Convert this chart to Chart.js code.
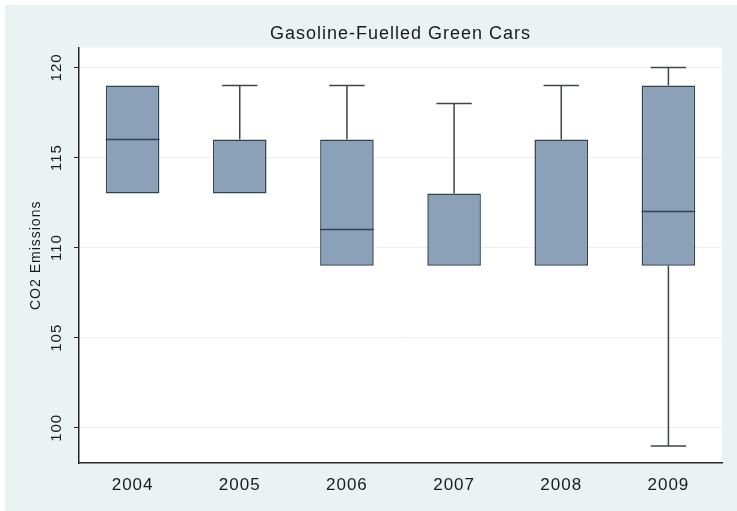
<!DOCTYPE html>
<html>
<head>
<meta charset="utf-8">
<title>Gasoline-Fuelled Green Cars</title>
<script src="https://cdn.jsdelivr.net/npm/chart.js@4.4.1/dist/chart.umd.min.js"></script>
<style>
    html, body { margin: 0; padding: 0; background: #ffffff; }
    .chart-container { position: relative; width: 737px; height: 511px; }
</style>
</head>
<body>
<div class="chart-container"><canvas id="chart"></canvas></div>
<script>
// --- Data: CO2 emissions summary per model year ---
const YEARS = ['2004', '2005', '2006', '2007', '2008', '2009'];
const WHISKER_LOW = [113, 113, 109, 109, 109, 99];
const Q1 = [113, 113, 109, 109, 109, 109];
const MEDIAN = [116, 116, 111, 109, 109, 112];
const Q3 = [119, 116, 116, 113, 116, 119];
const WHISKER_HIGH = [119, 119, 119, 118, 119, 120];
const Y_TICKS = [100, 105, 110, 115, 120];

// --- Styling ---
const COLORS = {
    BACKGROUND: '#eaf2f3',
    BOX_FILL: '#8ba1b8',
    BOX_LINE: '#2f4254',
    WHISKER: '#3f454b',
    GRID: '#eaf0f1',
    AXIS: '#262626',
    TEXT: '#1a1a1a'
};
const FONT = '"Liberation Sans", Arial, sans-serif';

// Background panels, whiskers + medians, and the upright y tick labels
const boxWhiskers = {
    id: 'boxWhiskers',
    beforeDraw(chart) {
        const { ctx, width, height, chartArea: a } = chart;
        ctx.save();
        ctx.fillStyle = '#ffffff';
        ctx.fillRect(0, 0, width, height);
        ctx.fillStyle = COLORS.BACKGROUND;
        ctx.fillRect(5, 5, width - 5, height - 5);
        ctx.fillStyle = '#ffffff';
        ctx.fillRect(a.left, a.top, a.right - a.left, a.bottom - a.top);
        ctx.restore();
        ctx.letterSpacing = '1px';
    },
    afterDatasetsDraw(chart) {
        const { ctx, scales: { x, y } } = chart;
        const bars = chart.getDatasetMeta(0).data;
        ctx.save();
        ctx.lineWidth = 1.5;
        YEARS.forEach((year, i) => {
            const cx = x.getPixelForValue(i);
            const half = bars[i].width / 2;
            const cap = bars[i].width * 0.33;

            ctx.strokeStyle = COLORS.WHISKER;
            ctx.beginPath();
            if (WHISKER_HIGH[i] > Q3[i]) {
                const top = y.getPixelForValue(WHISKER_HIGH[i]);
                ctx.moveTo(cx, y.getPixelForValue(Q3[i]));
                ctx.lineTo(cx, top);
                ctx.moveTo(cx - cap, top);
                ctx.lineTo(cx + cap, top);
            }
            if (WHISKER_LOW[i] < Q1[i]) {
                const bottom = y.getPixelForValue(WHISKER_LOW[i]);
                ctx.moveTo(cx, y.getPixelForValue(Q1[i]));
                ctx.lineTo(cx, bottom);
                ctx.moveTo(cx - cap, bottom);
                ctx.lineTo(cx + cap, bottom);
            }
            ctx.stroke();

            // a median sitting on a box edge is already drawn by the border
            if (MEDIAN[i] > Q1[i] && MEDIAN[i] < Q3[i]) {
                const my = y.getPixelForValue(MEDIAN[i]);
                ctx.strokeStyle = COLORS.BOX_LINE;
                ctx.beginPath();
                ctx.moveTo(cx - half, my);
                ctx.lineTo(cx + half, my);
                ctx.stroke();
            }
        });
        ctx.restore();
    },
    afterDraw(chart) {
        const { ctx, scales: { y } } = chart;
        ctx.save();
        ctx.font = `15px ${FONT}`;
        ctx.fillStyle = COLORS.TEXT;
        ctx.textAlign = 'center';
        ctx.textBaseline = 'middle';
        Y_TICKS.forEach(v => {
            ctx.save();
            ctx.translate(y.right - 22, y.getPixelForValue(v));
            ctx.rotate(-Math.PI / 2);
            ctx.fillText(String(v), 0, 0);
            ctx.restore();
        });
        ctx.restore();
    }
};

const ctx = document.getElementById('chart').getContext('2d');
const myChart = new Chart(ctx, {
    type: 'bar',
    data: {
        labels: YEARS,
        datasets: [{
            data: Q1.map((q, i) => [q, Q3[i]]),
            backgroundColor: COLORS.BOX_FILL,
            borderColor: COLORS.BOX_LINE,
            borderWidth: 1.5,
            borderSkipped: false,
            categoryPercentage: 1,
            barPercentage: 0.5
        }]
    },
    options: {
        responsive: true, maintainAspectRatio: false,
        animation: false,
        layout: { padding: { left: 0, right: 15, top: 0, bottom: 0 } },
        plugins: {
            legend: { display: false },
            tooltip: { enabled: false },
            title: {
                display: true, fullSize: false,
                text: 'Gasoline-Fuelled Green Cars',
                color: COLORS.TEXT,
                font: { family: FONT, size: 18, weight: 'normal' },
                padding: { top: 23, bottom: 3 }
            }
        },
        scales: {
            x: {
                offset: true,
                grid: { display: false, drawTicks: false },
                border: { display: true, color: COLORS.AXIS, width: 1.5 },
                ticks: { color: COLORS.TEXT, font: { family: FONT, size: 17 }, padding: 12, maxRotation: 0 },
                afterFit: s => { s.height = 48; }
            },
            y: {
                min: 98.05, max: 121.1,
                afterBuildTicks: s => { s.ticks = Y_TICKS.map(v => ({ value: v })); },
                afterFit: s => { s.width = 79; },
                ticks: { display: false },
                grid: { color: COLORS.GRID, tickColor: COLORS.AXIS, tickLength: 5, drawTicks: true },
                border: { display: true, color: COLORS.AXIS, width: 1.5 },
                title: {
                    display: true, text: 'CO2 Emissions', color: COLORS.TEXT,
                    font: { family: FONT, size: 14 },
                    padding: { top: 28, bottom: 0 }
                }
            }
        }
    },
    plugins: [boxWhiskers]
});
</script>
</body>
</html>
